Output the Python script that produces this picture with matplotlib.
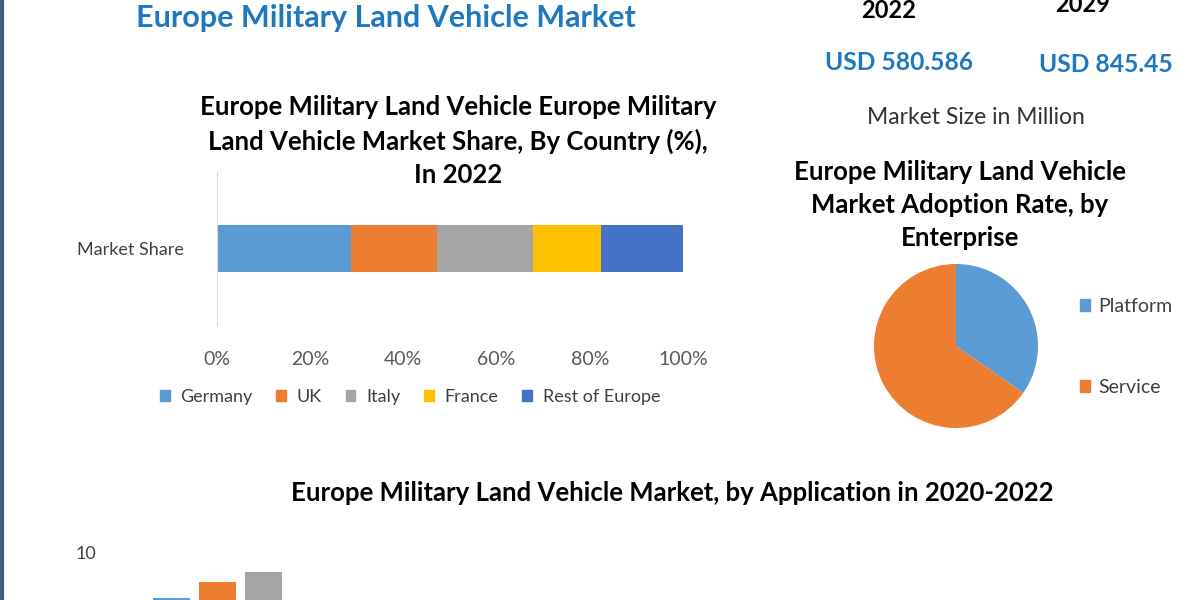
import matplotlib.pyplot as plt
from matplotlib.patches import Patch

plt.rcParams['font.family'] = ['Lato', 'DejaVu Sans']

# Market share by country, 2022 (%)
countries = ["Germany", "UK", "Italy", "France", "Rest of Europe"]
shares = [28.7, 18.5, 20.6, 14.7, 17.5]
country_colors = ["#5B9BD5", "#ED7D31", "#A5A5A5", "#FFC000", "#4472C4"]

# Adoption rate by enterprise
enterprise = ["Platform", "Service"]
adoption = [34.7, 65.3]
enterprise_colors = ["#5B9BD5", "#ED7D31"]

# By application, 2020-2022 (only first group visible)
app_years = ["2020", "2021", "2022"]
app_values = [7.7, 8.5, 9.0]
app_colors = ["#5B9BD5", "#ED7D31", "#A5A5A5"]

W, H = 1200, 600
fig = plt.figure(figsize=(12, 6), dpi=100)
fig.patch.set_facecolor("white")


def fx(px):
    return px / W


def fy(py):
    return 1 - py / H


def box(left, top, right, bottom):
    return [fx(left), fy(bottom), fx(right) - fx(left), fy(top) - fy(bottom)]


# left border line
fig.add_artist(plt.Line2D([fx(2), fx(2)], [0, 1], color="#3F5E82", lw=3))

blue = "#1F78BF"
fig.text(fx(386), fy(18), "Europe Military Land Vehicle Market", color=blue,
         fontsize=22, fontweight="bold", ha="center", va="center")
fig.text(fx(889), fy(11), "2022", fontsize=17, fontweight="bold", ha="center", va="center")
fig.text(fx(1083), fy(5), "2029", fontsize=17, fontweight="bold", ha="center", va="center")
fig.text(fx(899), fy(63), "USD 580.586", color=blue, fontsize=17.7, fontweight="bold",
         ha="center", va="center")
fig.text(fx(1106), fy(64), "USD 845.45", color=blue, fontsize=17.7, fontweight="bold",
         ha="center", va="center")
fig.text(fx(976), fy(117), "Market Size in Million", color="#333333", fontsize=16.5,
         ha="center", va="center")

# ---- stacked share bar ----
fig.text(fx(458), fy(141),
         "Europe Military Land Vehicle Europe Military\nLand Vehicle Market Share, By Country (%),\nIn 2022",
         fontsize=18.5, fontweight="bold", ha="center", va="center", linespacing=1.45)

ax1 = fig.add_axes(box(217, 172, 683, 325))
left = 0
handles = []
for name, val, col in zip(countries, shares, country_colors):
    ax1.barh([0], [val], left=left, height=0.31, color=col)
    left += val
    handles.append(Patch(color=col, label=name))
ax1.set_xlim(0, 100)
ax1.set_ylim(-0.5, 0.5)
ax1.set_xticks([0, 20, 40, 60, 80, 100])
ax1.set_xticklabels([f"{t}%" for t in [0, 20, 40, 60, 80, 100]])
ax1.set_yticks([0])
ax1.set_yticklabels(["Market Share"])
ax1.tick_params(axis="x", length=0, pad=19, labelsize=14, labelcolor="#595959")
ax1.tick_params(axis="y", length=0, pad=24, labelsize=13, labelcolor="#404040")
for s in ["top", "right", "bottom"]:
    ax1.spines[s].set_visible(False)
ax1.spines["left"].set_color("#D9D9D9")
fig.legend(handles=handles, loc="center", bbox_to_anchor=(fx(410), fy(397)), ncol=5,
           frameon=False, fontsize=13, handlelength=0.55, handleheight=0.55,
           handletextpad=0.6, columnspacing=1.3, labelcolor="#404040")

# ---- pie ----
fig.text(fx(960), fy(205),
         "Europe Military Land Vehicle\nMarket Adoption Rate, by\nEnterprise",
         fontsize=18.5, fontweight="bold", ha="center", va="center", linespacing=1.45)
ax2 = fig.add_axes(box(874, 264, 1038, 428))
ax2.pie(adoption, colors=enterprise_colors, startangle=90, counterclock=False,
        radius=1.0)
ax2.set_xlim(-1, 1)
ax2.set_ylim(-1, 1)
ax2.set_aspect("equal")
ph = [Patch(color=c, label=l) for l, c in zip(enterprise, enterprise_colors)]
fig.legend(handles=ph, loc="center left", bbox_to_anchor=(fx(1062), fy(347)),
           frameon=False, fontsize=14, handlelength=0.55, handleheight=0.55,
           handletextpad=0.4, labelspacing=3.3, labelcolor="#404040")

# ---- application bars (cut off at bottom) ----
fig.text(fx(672), fy(493), "Europe Military Land Vehicle Market, by Application in 2020-2022",
         fontsize=18.5, fontweight="bold", ha="center", va="center")
ax3 = fig.add_axes(box(100, 540, 1100, 750))
for i, (yr, val, col) in enumerate(zip(app_years, app_values, app_colors)):
    ax3.bar(i, val, width=0.8, color=col)
ax3.set_xlim(-1.554, 20.18)
ax3.set_ylim(0, 10.61)
ax3.set_yticks([10])
ax3.set_yticklabels(["10"])
ax3.set_xticks([])
ax3.tick_params(axis="y", length=0, pad=3, labelsize=13, labelcolor="#404040")
for s in ax3.spines.values():
    s.set_visible(False)

plt.savefig("out.png", dpi=100, facecolor="white")
